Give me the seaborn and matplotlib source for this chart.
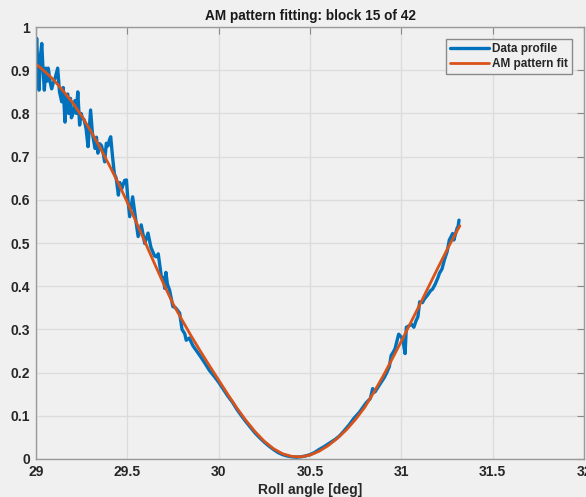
#!/usr/bin/env python

"""
AM pattern fitting plot (block 15 of 42).
"""

import matplotlib

matplotlib.use("Agg")
import matplotlib.pyplot as plt
import pandas as pd
import seaborn as sns
from matplotlib.ticker import FormatStrFormatter

# measured data profile (roll angle in deg, normalised amplitude)
data_x = [
    29.000, 29.005, 29.012, 29.018, 29.025, 29.033, 29.040, 29.047, 29.055, 29.060,
    29.063, 29.068, 29.072, 29.075, 29.087, 29.095, 29.105, 29.120, 29.130, 29.142,
    29.150, 29.160, 29.165, 29.170, 29.175, 29.180, 29.185, 29.190, 29.195, 29.200,
    29.210, 29.215, 29.222, 29.230, 29.240, 29.248, 29.255, 29.265, 29.275, 29.286,
    29.300, 29.310, 29.324, 29.332, 29.340, 29.350, 29.360, 29.368, 29.377, 29.386,
    29.395, 29.404, 29.410, 29.420, 29.430, 29.440, 29.452, 29.460, 29.470, 29.486,
    29.496, 29.504, 29.514, 29.530, 29.545, 29.560, 29.577, 29.596, 29.614, 29.630,
    29.650, 29.660, 29.670, 29.687, 29.700, 29.705, 29.712, 29.720, 29.732, 29.750,
    29.765, 29.787, 29.800, 29.815, 29.823, 29.840, 29.860, 29.880, 29.900, 29.925,
    29.950, 29.975, 30.000, 30.025, 30.050, 30.075, 30.100, 30.125, 30.150, 30.175,
    30.200, 30.225, 30.250, 30.275, 30.300, 30.325, 30.350, 30.375, 30.400, 30.425,
    30.450, 30.475, 30.500, 30.525, 30.550, 30.575, 30.607, 30.640, 30.660, 30.680,
    30.700, 30.716, 30.740, 30.770, 30.790, 30.807, 30.830, 30.843, 30.855, 30.870,
    30.890, 30.907, 30.920, 30.934, 30.944, 30.952, 30.965, 30.985, 31.000, 31.010,
    31.020, 31.027, 31.040, 31.055, 31.068, 31.080, 31.090, 31.100, 31.115, 31.125,
    31.144, 31.160, 31.170, 31.185, 31.200, 31.208, 31.222, 31.235, 31.250, 31.262,
    31.272, 31.280, 31.287, 31.295, 31.305, 31.310, 31.315,
]
data_y = [
    0.924, 0.974, 0.900, 0.854, 0.930, 0.962, 0.900, 0.854, 0.905, 0.890,
    0.875, 0.905, 0.895, 0.880, 0.857, 0.870, 0.880, 0.905, 0.850, 0.827,
    0.860, 0.780, 0.820, 0.840, 0.845, 0.800, 0.820, 0.835, 0.790, 0.795,
    0.810, 0.830, 0.800, 0.850, 0.773, 0.800, 0.790, 0.785, 0.766, 0.723,
    0.808, 0.754, 0.719, 0.745, 0.708, 0.730, 0.725, 0.710, 0.688, 0.731,
    0.725, 0.740, 0.746, 0.700, 0.660, 0.650, 0.611, 0.640, 0.625, 0.645,
    0.646, 0.600, 0.561, 0.607, 0.560, 0.515, 0.542, 0.499, 0.523, 0.490,
    0.470, 0.468, 0.475, 0.422, 0.420, 0.395, 0.432, 0.405, 0.391, 0.353,
    0.350, 0.338, 0.300, 0.290, 0.275, 0.280, 0.262, 0.250, 0.238, 0.222,
    0.205, 0.192, 0.178, 0.162, 0.146, 0.132, 0.115, 0.100, 0.086, 0.073,
    0.060, 0.049, 0.039, 0.030, 0.022, 0.015, 0.010, 0.007, 0.005, 0.004,
    0.005, 0.007, 0.010, 0.015, 0.022, 0.028, 0.037, 0.046, 0.053, 0.062,
    0.072, 0.080, 0.094, 0.108, 0.120, 0.130, 0.140, 0.163, 0.155, 0.165,
    0.178, 0.189, 0.200, 0.214, 0.240, 0.245, 0.255, 0.289, 0.282, 0.270,
    0.244, 0.305, 0.308, 0.312, 0.305, 0.320, 0.329, 0.364, 0.362, 0.370,
    0.380, 0.390, 0.393, 0.405, 0.420, 0.430, 0.440, 0.461, 0.480, 0.507,
    0.515, 0.522, 0.507, 0.520, 0.535, 0.538, 0.553,
]

# AM pattern fit
fit_x = [
    29.00, 29.05, 29.10, 29.15, 29.20, 29.25, 29.30, 29.35, 29.40, 29.45,
    29.50, 29.55, 29.60, 29.65, 29.70, 29.75, 29.80, 29.85, 29.90, 29.95,
    30.00, 30.05, 30.10, 30.15, 30.20, 30.25, 30.30, 30.35, 30.40, 30.45,
    30.50, 30.55, 30.60, 30.65, 30.70, 30.75, 30.80, 30.85, 30.90, 30.95,
    31.00, 31.05, 31.10, 31.15, 31.20, 31.25, 31.30, 31.32,
]
fit_y = [
    0.915, 0.897, 0.877, 0.852, 0.826, 0.795, 0.760, 0.722, 0.682, 0.640,
    0.595, 0.548, 0.500, 0.452, 0.405, 0.360, 0.322, 0.285, 0.250, 0.216,
    0.183, 0.150, 0.118, 0.089, 0.063, 0.041, 0.024, 0.012, 0.006, 0.005,
    0.009, 0.018, 0.031, 0.048, 0.068, 0.092, 0.120, 0.155, 0.192, 0.232,
    0.273, 0.315, 0.357, 0.400, 0.443, 0.485, 0.525, 0.540,
]

BG = "#f0f0f0"
BLUE = "#0072bd"
ORANGE = "#d95319"


def main():
    sns.set_style(
        "whitegrid",
        {
            "axes.facecolor": BG,
            "figure.facecolor": BG,
            "grid.color": "#dcdcdc",
            "axes.edgecolor": "#9a9a9a",
        },
    )
    plt.rcParams["font.family"] = ["Liberation Sans", "DejaVu Sans"]
    plt.rcParams["font.weight"] = "bold"

    fig = plt.figure(figsize=(5.86, 4.97), dpi=100)
    ax = fig.add_axes([0.061, 0.0765, 0.936, 0.869])

    data = pd.DataFrame({"x": data_x, "y": data_y})
    fit = pd.DataFrame({"x": fit_x, "y": fit_y})
    sns.lineplot(data=data, x="x", y="y", ax=ax, color=BLUE, lw=2.4,
                 label="Data profile", sort=False)
    sns.lineplot(data=fit, x="x", y="y", ax=ax, color=ORANGE, lw=2.0,
                 label="AM pattern fit", sort=False)

    ax.set_xlim(29, 32)
    ax.set_ylim(0, 1)
    ax.set_xticks([29, 29.5, 30, 30.5, 31, 31.5, 32])
    ax.set_yticks([i / 10 for i in range(11)])
    ax.xaxis.set_major_formatter(FormatStrFormatter("%g"))
    ax.yaxis.set_major_formatter(FormatStrFormatter("%g"))
    ax.tick_params(direction="in", length=5, width=0.8, color="#8a8a8a",
                   labelsize=10, labelcolor="#262626", top=True, right=True,
                   pad=4)
    for lbl in ax.get_xticklabels() + ax.get_yticklabels():
        lbl.set_fontweight("bold")
    ax.grid(True, lw=1.0)
    for sp in ax.spines.values():
        sp.set_linewidth(1.0)

    ax.set_title("AM pattern fitting: block 15 of 42", fontsize=9.8,
                 fontweight="bold", color="#1a1a1a", pad=5)
    ax.set_xlabel("Roll angle [deg]", fontsize=10, fontweight="bold",
                  color="#262626", labelpad=3)
    ax.set_ylabel("")

    leg = ax.legend(loc="upper right", fontsize=8.5, frameon=True,
                    fancybox=False, borderaxespad=1.0, handlelength=3.3,
                    borderpad=0.35, labelspacing=0.25, handletextpad=0.3)
    leg.get_frame().set_edgecolor("#8a8a8a")
    leg.get_frame().set_facecolor(BG)
    leg.get_frame().set_alpha(1)
    for t in leg.get_texts():
        t.set_fontweight("bold")

    fig.savefig("out.png", dpi=100, facecolor=BG)


if __name__ == "__main__":
    main()
